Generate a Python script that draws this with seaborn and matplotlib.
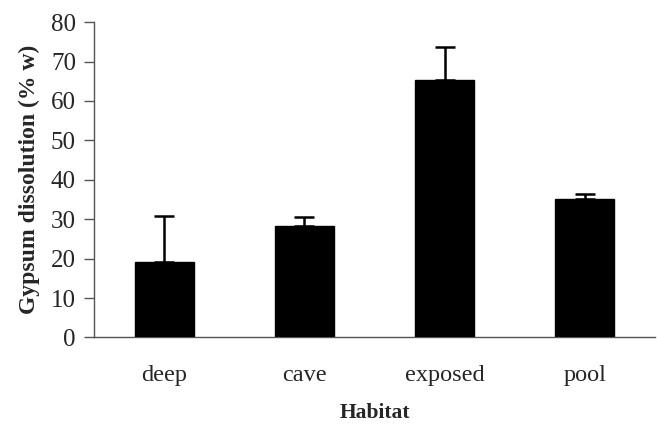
import matplotlib
matplotlib.use("Agg")
import matplotlib.pyplot as plt
import seaborn as sns
import numpy as np
import pandas as pd

categories = ["deep", "cave", "exposed", "pool"]
means = [19.1, 28.3, 65.2, 35.2]
upper_err = [11.7, 2.2, 8.4, 1.2]
y_ticks = [0, 10, 20, 30, 40, 50, 60, 70, 80]

sns.set_style("white")
plt.rcParams["font.family"] = ["Liberation Serif", "DejaVu Serif"]

fig = plt.figure(figsize=(6.57, 4.25), dpi=100)
ax = fig.add_axes([0.1431, 0.2059, 0.997 - 0.1431, 0.948 - 0.2059])

df = pd.DataFrame({"Habitat": categories, "value": means})
sns.barplot(data=df, x="Habitat", y="value", color="black", width=0.42,
            saturation=1, errorbar=None, ax=ax, edgecolor="black")
for p in ax.patches:
    p.set_zorder(3)

xpos = np.arange(len(categories))
ax.errorbar(xpos, means, yerr=[np.zeros(len(means)), upper_err], fmt="none",
            ecolor="black", elinewidth=1.8, capsize=7, capthick=1.8, zorder=2)

ax.set_xlim(-0.5, len(categories) - 0.5)
ax.set_ylim(0, 80)
ax.set_yticks(y_ticks)
ax.set_yticklabels([str(t) for t in y_ticks])

ax.set_xticks(xpos)
ax.set_xticks(np.arange(-0.5, len(categories)), minor=True)
ax.tick_params(axis="x", which="major", length=0, pad=20, labelsize=17.5)
ax.tick_params(axis="x", which="minor", length=7, width=1, color="#555555", direction="out")
ax.tick_params(axis="y", which="major", length=7, width=1, color="#555555",
               direction="out", pad=6, labelsize=18, left=True)

for side in ["top", "right"]:
    ax.spines[side].set_visible(False)
for side in ["left", "bottom"]:
    ax.spines[side].set_color("#555555")
    ax.spines[side].set_linewidth(1)

ax.set_xlabel("Habitat", fontsize=15.5, fontweight="bold", labelpad=12)
ax.set_ylabel("Gypsum dissolution (% w)", fontsize=17, fontweight="bold", labelpad=8)

fig.savefig("out.png", dpi=100)
